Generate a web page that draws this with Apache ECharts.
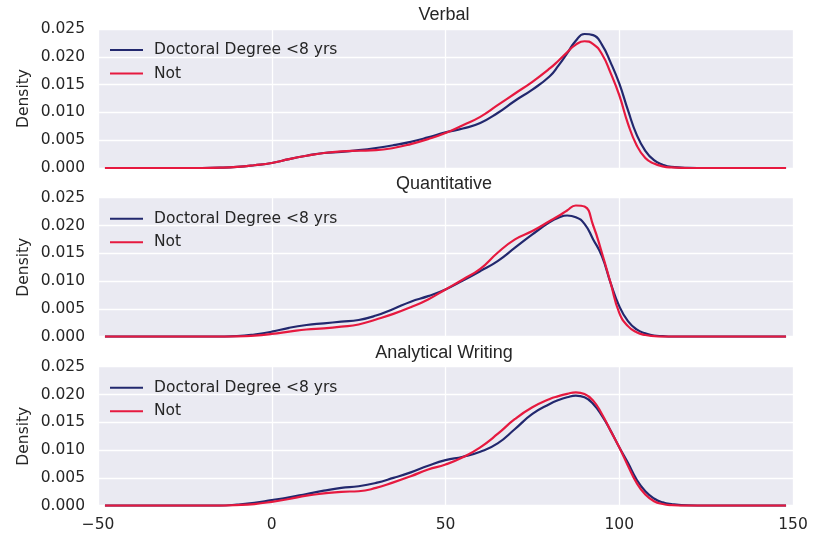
<!DOCTYPE html>
<html>
<head>
<meta charset="utf-8">
<script src="https://cdn.jsdelivr.net/npm/echarts@6/dist/echarts.min.js"></script>
<style>html,body{margin:0;padding:0;background:#fff}#c{width:819px;height:534px}</style>
</head>
<body>
<div id="c"></div>
<script>
const panelTitles = ['Verbal', 'Quantitative', 'Analytical Writing'];
const seriesNames = ['Doctoral Degree <8 yrs', 'Not'];
const xTicks = [-50, 0, 50, 100, 150];
const yTicks = [0, 0.005, 0.010, 0.015, 0.020, 0.025];

const xs = [-48, -30, -20, -15, -10, -5, 0, 5, 10, 15, 20, 25, 30, 35, 40, 45, 50, 55, 60, 65, 70, 75, 80, 82.5, 85, 87.5, 90, 92.5, 95, 97.5, 100, 102.5, 105, 107.5, 110, 112.5, 115, 120, 125, 130, 148];

const verbalDoc = [0, 0, 0, 0.00005, 0.0002, 0.0005, 0.0009, 0.0016, 0.0022, 0.0027, 0.0029, 0.0032, 0.0036, 0.0041, 0.0047, 0.0055, 0.0064, 0.0071, 0.0081, 0.0099, 0.0121, 0.0141, 0.0165, 0.0184, 0.0206, 0.0229, 0.0241, 0.0239, 0.0222, 0.0190, 0.0152, 0.0104, 0.0060, 0.0031, 0.0014, 0.0006, 0.0002, 0.00003, 0, 0, 0];
const verbalNot = [0, 0, 0, 0.00005, 0.0002, 0.0005, 0.0009, 0.0016, 0.0022, 0.0027, 0.0030, 0.0031, 0.0032, 0.0036, 0.0043, 0.0052, 0.0063, 0.0077, 0.0092, 0.0113, 0.0134, 0.0155, 0.0179, 0.0193, 0.0208, 0.0222, 0.0228, 0.0223, 0.0205, 0.0171, 0.0131, 0.0080, 0.0041, 0.0018, 0.0008, 0.0003, 0.0001, 0, 0, 0, 0];

const quantDoc = [0, 0, 0, 0.00002, 0.0001, 0.0004, 0.0009, 0.0016, 0.0021, 0.0024, 0.0027, 0.0030, 0.0038, 0.0050, 0.0063, 0.0073, 0.0085, 0.0101, 0.0118, 0.0136, 0.0160, 0.0184, 0.0206, 0.0214, 0.0218, 0.0215, 0.0203, 0.0175, 0.0145, 0.0097, 0.0055, 0.0028, 0.0013, 0.0006, 0.0002, 0.0001, 0.00003, 0, 0, 0, 0];
const quantNot = [0, 0, 0, 0, 0.00005, 0.0002, 0.0005, 0.0009, 0.0013, 0.0015, 0.0018, 0.0022, 0.0031, 0.0041, 0.0053, 0.0067, 0.0085, 0.0103, 0.0122, 0.0151, 0.0175, 0.0190, 0.0208, 0.0217, 0.0227, 0.0236, 0.0234, 0.0200, 0.0151, 0.0097, 0.0043, 0.0019, 0.0008, 0.0003, 0.0001, 0, 0, 0, 0, 0, 0];

const writingDoc = [0, 0, 0.00001, 0.00003, 0.0002, 0.0005, 0.0010, 0.0015, 0.0021, 0.0027, 0.0032, 0.0035, 0.0041, 0.0050, 0.0060, 0.0072, 0.0082, 0.0088, 0.0097, 0.0112, 0.0138, 0.0165, 0.0183, 0.0190, 0.0195, 0.0198, 0.0195, 0.0183, 0.0162, 0.0135, 0.0105, 0.0077, 0.0047, 0.0026, 0.0013, 0.0006, 0.0003, 0.00005, 0, 0, 0];
const writingNot = [0, 0, 0, 0.00002, 0.0001, 0.0003, 0.0007, 0.0012, 0.0018, 0.0022, 0.0025, 0.0026, 0.0032, 0.0042, 0.0053, 0.0065, 0.0074, 0.0087, 0.0105, 0.0129, 0.0156, 0.0177, 0.0192, 0.0197, 0.0201, 0.0204, 0.0201, 0.0189, 0.0165, 0.0135, 0.0105, 0.0072, 0.0041, 0.0020, 0.0008, 0.0003, 0.0001, 0, 0, 0, 0];

const panelData = [[verbalDoc, verbalNot], [quantDoc, quantNot], [writingDoc, writingNot]];
const colors = ['#22286e', '#e6193f'];

const gridTops = [29, 197.7, 366.7];
const gridH = 139;
const textColor = '#262626';
const fontMain = 'DejaVu Sans';
const fontSz = 15.5;

const chart = echarts.init(document.getElementById('c'), null, {renderer: 'canvas'});

const grids = [], xAxes = [], yAxes = [], series = [], titles = [], legends = [];
gridTops.forEach((top, p) => {
  grids.push({left: 98, right: 26, top: top, height: gridH, show: true, backgroundColor: '#EAEAF2', borderWidth: 0, containLabel: false});
  xAxes.push({
    type: 'value', gridIndex: p, min: xTicks[0], max: xTicks[xTicks.length - 1], interval: 50,
    axisLine: {show: false}, axisTick: {show: false},
    splitLine: {show: true, lineStyle: {color: '#ffffff', width: 1.3}},
    axisLabel: {show: p === 2, color: textColor, fontFamily: fontMain, fontSize: fontSz, margin: 11,
      formatter: v => v < 0 ? '\u2212' + Math.abs(v) : String(v)}
  });
  yAxes.push({
    type: 'value', gridIndex: p, min: yTicks[0], max: yTicks[yTicks.length - 1], interval: 0.005,
    axisLine: {show: false}, axisTick: {show: false},
    splitLine: {show: true, lineStyle: {color: '#ffffff', width: 1.3}},
    axisLabel: {color: textColor, fontFamily: fontMain, fontSize: fontSz, margin: 13, formatter: v => v.toFixed(3)},
    name: 'Density', nameLocation: 'middle', nameGap: 66, nameMoveOverlap: false,
    nameTextStyle: {color: textColor, fontFamily: fontMain, fontSize: fontSz}
  });
  panelData[p].forEach((vals, s) => {
    series.push({
      type: 'line', name: seriesNames[s], xAxisIndex: p, yAxisIndex: p,
      data: xs.map((x, i) => [x, vals[i]]),
      showSymbol: false, symbol: 'none', smooth: 0.5,
      lineStyle: {color: colors[s], width: 2.2}, itemStyle: {color: colors[s]},
      z: 2 + s
    });
  });
  titles.push({
    text: panelTitles[p], left: 439, top: top - 28, textAlign: 'center',
    textStyle: {color: textColor, fontFamily: 'Liberation Sans', fontSize: 18, fontWeight: 'normal'}
  });
  legends.push({
    orient: 'vertical', left: 105, top: top + 8, itemWidth: 33, itemHeight: 2, itemGap: 7.5,
    icon: 'rect', data: seriesNames, selectedMode: false,
    textStyle: {color: textColor, fontFamily: fontMain, fontSize: fontSz, lineHeight: 15.5, padding: [0, 0, 0, 6]}
  });
});

chart.setOption({
  animation: false,
  backgroundColor: '#ffffff',
  color: colors,
  title: titles,
  legend: legends,
  grid: grids,
  xAxis: xAxes,
  yAxis: yAxes,
  series: series
});
</script>
</body>
</html>
